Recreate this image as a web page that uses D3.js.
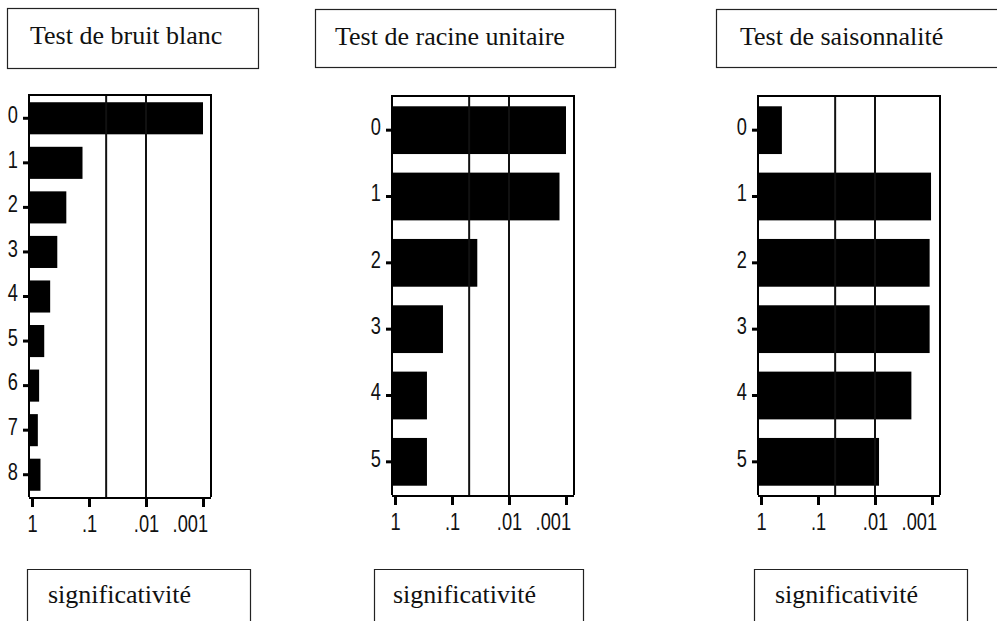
<!DOCTYPE html>
<html>
<head>
<meta charset="utf-8">
<script src="https://cdn.jsdelivr.net/npm/d3@7"></script>
<style>
  body { margin: 0; background: #fff; }
  svg { display: block; }
</style>
</head>
<body>
<svg id="chart" width="997" height="621"></svg>
<script>
// ---- Data ----
const titles = ["Test de bruit blanc", "Test de racine unitaire", "Test de saisonnalité"];
const axisTitle = "significativité";

const lagsWhiteNoise = ["0", "1", "2", "3", "4", "5", "6", "7", "8"];
const pWhiteNoise    = [0.001, 0.13, 0.25, 0.36, 0.48, 0.61, 0.75, 0.79, 0.71];

const lagsUnitRoot = ["0", "1", "2", "3", "4", "5"];
const pUnitRoot    = [0.001, 0.0013, 0.036, 0.144, 0.275, 0.275];

const lagsSeasonal = ["0", "1", "2", "3", "4", "5"];
const pSeasonal    = [0.43, 0.00104, 0.0011, 0.0011, 0.0023, 0.0085];

const tickValues = [1, 0.1, 0.01, 0.001];
const tickLabels = ["1", ".1", ".01", ".001"];
const thresholds = [0.05, 0.01];

// ---- Layout (pixels) ----
const panels = [
  { title: titles[0], lags: lagsWhiteNoise, p: pWhiteNoise,
    xr: [32, 203], top: 95, bottom: 497,
    tbox: { x: 7, y: 8, w: 251, h: 60 }, ttx: 30,
    bbox: { x: 27, y: 569, w: 223 }, btx: 48 },
  { title: titles[1], lags: lagsUnitRoot, p: pUnitRoot,
    xr: [395, 566], top: 96, bottom: 495,
    tbox: { x: 315, y: 9, w: 300, h: 58 }, ttx: 335,
    bbox: { x: 374, y: 569, w: 209 }, btx: 393 },
  { title: titles[2], lags: lagsSeasonal, p: pSeasonal,
    xr: [761, 932], top: 96, bottom: 495,
    tbox: { x: 716, y: 9, w: 300, h: 58 }, ttx: 740,
    bbox: { x: 754, y: 569, w: 213 }, btx: 775 }
];

const svg = d3.select("#chart");
const serif = "'Liberation Serif', 'Times New Roman', serif";
const digits = "'Liberation Sans', Arial, sans-serif";
const squeeze = 0.76; // horizontal compression of the tick digits

// condense a tick label around its anchor point
function condense(sel) {
  sel.each(function () {
    const t = d3.select(this);
    const x0 = +t.attr("x") || 0;
    t.attr("x", null).attr("transform", `translate(${x0},0) scale(${squeeze},1)`);
  });
}

panels.forEach(P => {
  const g = svg.append("g");

  // title box
  g.append("rect")
    .attr("x", P.tbox.x + 0.5).attr("y", P.tbox.y + 0.5)
    .attr("width", P.tbox.w).attr("height", P.tbox.h)
    .attr("fill", "none").attr("stroke", "#222").attr("stroke-width", 1.2);
  g.append("text")
    .attr("x", P.ttx).attr("y", P.tbox.y + 36)
    .attr("font-family", serif).attr("font-size", 26).attr("fill", "#111")
    .text(P.title);

  // scales
  const x = d3.scaleLog().domain([1, 0.001]).range(P.xr);
  const left = P.xr[0] - 3;
  const right = P.xr[1] + 8;
  const y = d3.scaleBand().domain(P.lags)
    .range([P.top + 1, P.bottom])
    .paddingInner(0.28).paddingOuter(0.14);

  // bars
  g.selectAll("rect.bar").data(P.p).join("rect")
    .attr("class", "bar")
    .attr("x", left)
    .attr("y", (d, i) => y(P.lags[i]))
    .attr("width", d => x(d) - left)
    .attr("height", y.bandwidth())
    .attr("fill", "#000");

  // significance thresholds
  g.selectAll("line.thr").data(thresholds).join("line")
    .attr("class", "thr")
    .attr("x1", d => x(d)).attr("x2", d => x(d))
    .attr("y1", P.top).attr("y2", P.bottom)
    .attr("stroke", "#111").attr("stroke-width", 2);

  // frame
  g.append("path")
    .attr("d", `M${left},${P.bottom} V${P.top} H${right} V${P.bottom}`)
    .attr("fill", "none").attr("stroke", "#000").attr("stroke-width", 2);

  // x axis
  const xAxis = d3.axisBottom(x)
    .tickValues(tickValues)
    .tickFormat((d, i) => tickLabels[i])
    .tickSize(9).tickSizeOuter(0).tickPadding(8);
  const ax = g.append("g").attr("transform", `translate(0,${P.bottom + 1})`).call(xAxis);
  ax.select(".domain").attr("d", `M${left},0H${right}`).attr("stroke", "#000").attr("stroke-width", 2.2);
  ax.selectAll(".tick line").attr("stroke", "#000").attr("stroke-width", 3);
  ax.selectAll(".tick text")
    .attr("font-family", digits).attr("font-size", 24).attr("fill", "#111")
    .attr("text-anchor", (d, i) => i === tickValues.length - 1 ? "end" : "middle")
    .attr("dx", (d, i) => i === tickValues.length - 1 ? 6 : 0)
    .call(condense);

  // y axis
  const yAxis = d3.axisLeft(y).tickSize(6).tickSizeOuter(0).tickPadding(5);
  const ay = g.append("g").attr("transform", `translate(${left},0)`).call(yAxis);
  ay.select(".domain").remove();
  ay.selectAll(".tick line").attr("stroke", "#000").attr("stroke-width", 3);
  ay.selectAll(".tick text")
    .attr("font-family", digits).attr("font-size", 24).attr("fill", "#111")
    .attr("dy", "0.2em")
    .call(condense);

  // axis title box (runs off the bottom edge of the page)
  g.append("path")
    .attr("d", `M${P.bbox.x + 0.5},640 V${P.bbox.y + 0.5} H${P.bbox.x + P.bbox.w + 0.5} V640`)
    .attr("fill", "none").attr("stroke", "#222").attr("stroke-width", 1.2);
  g.append("text")
    .attr("x", P.btx).attr("y", 603)
    .attr("font-family", serif).attr("font-size", 26).attr("fill", "#111")
    .text(axisTitle);
});
</script>
</body>
</html>
